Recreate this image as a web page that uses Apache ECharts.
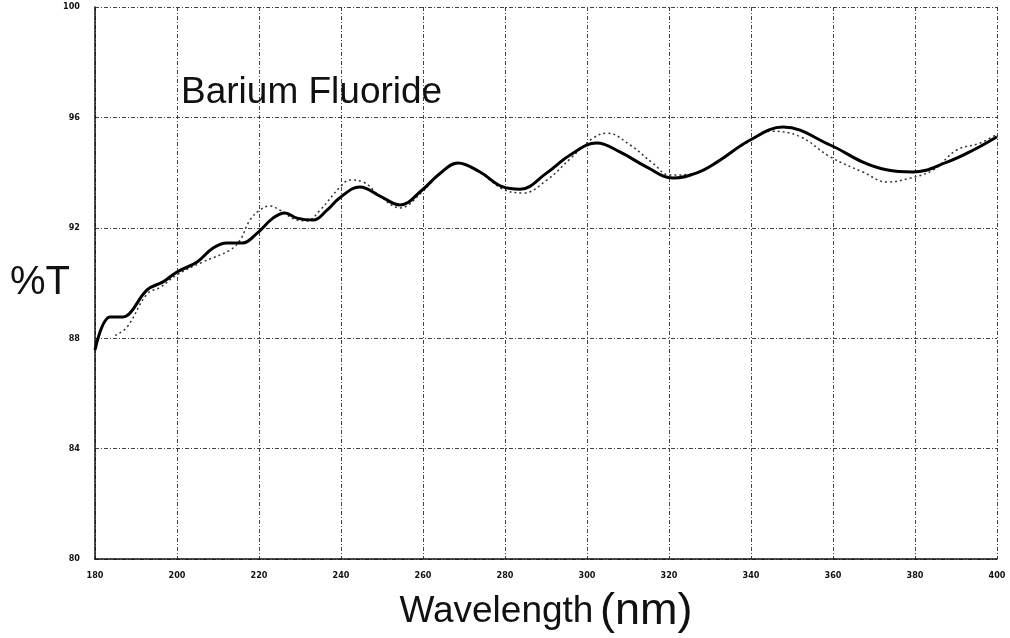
<!DOCTYPE html>
<html><head><meta charset="utf-8">
<script src="https://cdn.jsdelivr.net/npm/echarts@6/dist/echarts.min.js"></script>
<style>html,body{margin:0;padding:0;background:#fff}#c{width:1010px;height:638px}</style>
</head><body><div id="c"></div>
<script>
const xTicks = [180,200,220,240,260,280,300,320,340,360,380,400];
const yTicks = [80,84,88,92,96,100];
const measured = [[180,87.57],[183.7,88.77],[186.8,88.77],[188.5,88.9],[192.7,89.75],[196.6,90.04],[200,90.4],[204.9,90.76],[208.8,91.27],[212.2,91.45],[216,91.45],[219.5,91.8],[223.4,92.35],[226.3,92.54],[229.3,92.35],[233.2,92.28],[236.6,92.64],[239.8,93.1],[244.6,93.48],[249.5,93.15],[254.4,92.83],[259.8,93.37],[264,93.95],[268.5,94.35],[273.9,94.02],[279.5,93.48],[283.7,93.4],[290.2,93.99],[295.9,94.64],[302.4,95.07],[308,94.75],[314.6,94.2],[321,93.8],[326.8,93.99],[331.7,94.38],[339.8,95.18],[347.8,95.65],[359.3,95.0],[367.3,94.38],[373,94.1],[379.5,94.02],[387.8,94.38],[394,94.8],[400,95.3]];
const calculated = [[184.9,88.1],[187.8,88.4],[192.7,89.6],[196,89.85],[200,90.3],[206.3,90.76],[213,91.2],[215.4,91.56],[217.8,92.28],[220.2,92.64],[222.7,92.79],[225.1,92.64],[229.3,92.28],[231.7,92.25],[234.9,92.64],[239.8,93.48],[242.2,93.73],[245.4,93.66],[249.5,93.15],[254.4,92.72],[259.8,93.3],[264,93.95],[268.5,94.35],[273.9,94.0],[279.5,93.4],[284.4,93.26],[290.2,93.73],[295.9,94.5],[301.5,95.25],[304.9,95.43],[310.5,95.0],[316,94.35],[320.2,93.91],[326.8,93.99],[331.7,94.38],[339.8,95.15],[345,95.5],[352,95.3],[359.3,94.57],[367.3,94.02],[373.2,93.66],[378.8,93.8],[384.4,94.09],[390.2,94.82],[395.9,95.07],[400,95.4]];
const chart = echarts.init(document.getElementById('c'));
const gridLine = {show:true, lineStyle:{color:'#444', width:1, type:[4,2,1,2]}};
chart.setOption({
  animation:false,
  backgroundColor:'#fff',
  title:[
    {text:'Barium Fluoride', left:176, top:69, textStyle:{fontFamily:'Liberation Sans', fontSize:37, fontWeight:'normal', color:'#111'}},
    {text:'%T', left:5, top:258, textStyle:{fontFamily:'Liberation Sans', fontSize:40, fontWeight:'normal', color:'#111'}}
  ],
  grid:{left:95, right:13, top:7, bottom:79, containLabel:false, outerBoundsMode:'none'},
  xAxis:{type:'value', min:xTicks[0], max:xTicks[xTicks.length-1], interval:20,
    name:'{a|Wavelength}  {b|(nm)}', nameLocation:'middle', nameGap:30,
    nameTextStyle:{rich:{a:{fontFamily:'Liberation Sans', fontSize:37, color:'#111'}, b:{fontFamily:'Liberation Sans', fontSize:45, color:'#111'}}},
    axisLine:{lineStyle:{color:'#111', width:1.5}}, axisTick:{show:false},
    axisLabel:{fontFamily:'DejaVu Sans Condensed', fontSize:9, fontWeight:'bold', color:'#111', margin:12},
    splitLine:gridLine},
  yAxis:{type:'value', min:yTicks[0], max:yTicks[yTicks.length-1], interval:4,
    axisLine:{show:true, lineStyle:{color:'#111', width:1.5}}, axisTick:{show:false},
    axisLabel:{fontFamily:'DejaVu Sans Condensed', fontSize:9, fontWeight:'bold', color:'#111', margin:15},
    splitLine:gridLine},
  series:[
    {type:'line', data:calculated, smooth:0.4, showSymbol:false, lineStyle:{color:'#333', width:1.5, type:[2,3]}, z:2},
    {type:'line', data:measured, smooth:0.4, showSymbol:false, lineStyle:{color:'#000', width:3}, z:3}
  ]
});
</script></body></html>
